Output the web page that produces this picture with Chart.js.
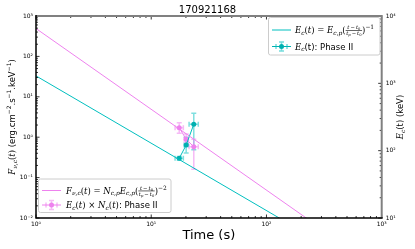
<!DOCTYPE html>
<html>
<head>
<meta charset="utf-8">
<script src="https://cdn.jsdelivr.net/npm/chart.js@4.4.1/dist/chart.umd.min.js"></script>
<style>
html, body { margin: 0; padding: 0; background: #fff; }
</style>
</head>
<body>
<canvas id="grb" width="415" height="249"></canvas>
<script>
// model lines, straight in log-log, end points
modelT = [1, 1000]
fluxModel = [490, 0.00049]     // F_nu,c(t), left axis
epeakModel = [1290, 1.29]      // E_c(t), right axis

// phase II measurements
times = [17.5, 20.1, 23.4]
timesLo = [16.1, 19.3, 21.3]
timesHi = [19.0, 21.0, 25.6]
epeak = [77, 121, 246]
epeakLo = [72, 92, 103]
epeakHi = [82, 158, 358]
flux = [1.72, 0.89, 0.58]
fluxLo = [1.25, 0.72, 0.16]
fluxHi = [2.28, 1.2, 0.89]

// tick labels
xTicks = [1, 10, 100, 1000]
fluxTicks = [0.01, 0.1, 1, 10, 100, 1000]
epeakTicks = [10, 100, 1000, 10000]

pink = '#ee82ee'
cyan = '#00bfbf'

function pow10label(v) {
  var sup = {'-': '\u207b', '0': '\u2070', '1': '\u00b9', '2': '\u00b2', '3': '\u00b3', '4': '\u2074'};
  var e = String(Math.round(Math.log10(v)));
  return '10' + e.split('').map(c => sup[c]).join('');
}

function pts(xs, ys) {
  return xs.map((x, i) => ({x: x, y: ys[i]}));
}

// little rich-text helper for the mathtext bits
function pf(p, s) {
  if (p.it) return 'italic ' + s + 'px "DejaVu Serif"';
  if (p.m) return s + 'px "DejaVu Serif"';
  return s + 'px "DejaVu Sans"';
}
function rich(ctx, parts, x, by, size, draw) {
  var cx = x;
  parts.forEach(p => {
    if (p.frac) {
      var fs = size * 0.62;
      var wn = rich(ctx, p.frac[0], 0, 0, fs, false);
      var wd = rich(ctx, p.frac[1], 0, 0, fs, false);
      var w = Math.max(wn, wd) + 1;
      if (draw) {
        var bar = by - size * 0.3;
        rich(ctx, p.frac[0], cx + (w - wn) / 2, bar - 1.2, fs, true);
        rich(ctx, p.frac[1], cx + (w - wd) / 2, bar + 0.8 + fs * 0.75, fs, true);
        ctx.fillRect(cx, bar - 0.3, w, 0.6);
      }
      cx += w;
      return;
    }
    var s = (p.sub || p.sup) ? size * 0.7 : size;
    ctx.font = pf(p, s);
    var dy = p.sub ? size * 0.22 : p.sup ? -size * 0.42 : 0;
    if (draw) ctx.fillText(p.t, cx, by + dy);
    cx += ctx.measureText(p.t).width;
  });
  return cx - x;
}

fracT = {frac: [
  [{t: 't', it: 1}, {t: '\u2009\u2212\u2009', m: 1}, {t: 't', it: 1}, {t: '0', m: 1, sub: 1}],
  [{t: 't', it: 1}, {t: 'p', it: 1, sub: 1}, {t: '\u2009\u2212\u2009', m: 1}, {t: 't', it: 1}, {t: '0', m: 1, sub: 1}]
]}
legE1 = [{t: 'E', it: 1}, {t: 'c', it: 1, sub: 1}, {t: '(', m: 1}, {t: 't', it: 1}, {t: ')', m: 1},
  {t: ' = ', m: 1}, {t: 'E', it: 1}, {t: 'c,p', it: 1, sub: 1}, {t: '(', m: 1}, fracT, {t: ')', m: 1}, {t: '\u22121', m: 1, sup: 1}]
legE2 = [{t: 'E', it: 1}, {t: 'c', it: 1, sub: 1}, {t: '(t): Phase II'}]
legF1 = [{t: 'F', it: 1}, {t: '\u03bd,c', it: 1, sub: 1}, {t: '(', m: 1}, {t: 't', it: 1}, {t: ')', m: 1},
  {t: ' = ', m: 1}, {t: 'N', it: 1}, {t: 'c,p', it: 1, sub: 1}, {t: 'E', it: 1}, {t: 'c,p', it: 1, sub: 1},
  {t: '(', m: 1}, fracT, {t: ')', m: 1}, {t: '\u22122', m: 1, sup: 1}]
legF2 = [{t: 'E', it: 1}, {t: 'c', it: 1, sub: 1}, {t: '(', m: 1}, {t: 't', it: 1}, {t: ')', m: 1},
  {t: ' \u00d7 ', m: 1}, {t: 'N', it: 1}, {t: 'c', it: 1, sub: 1}, {t: '(', m: 1}, {t: 't', it: 1}, {t: ')', m: 1},
  {t: ': Phase II'}]
titleF = [{t: 'F', it: 1}, {t: '\u03bd,c', it: 1, sub: 1}, {t: '(', m: 1}, {t: 't', it: 1}, {t: ')', m: 1},
  {t: ' (erg.cm'}, {t: '\u22122', sup: 1}, {t: '.s'}, {t: '\u22121', sup: 1}, {t: '.keV'}, {t: '\u22121', sup: 1}, {t: ')'}]
titleE = [{t: 'E', it: 1}, {t: 'c', it: 1, sub: 1}, {t: '(t) (keV)'}]

function errBars(chart, yId, ys, lo, hi, color) {
  var ctx = chart.ctx, sx = chart.scales.x, sy = chart.scales[yId];
  ctx.save();
  ctx.strokeStyle = color;
  ctx.lineWidth = 1.5;
  times.forEach((t, i) => {
    var px = sx.getPixelForValue(t), py = sy.getPixelForValue(ys[i]);
    var x0 = sx.getPixelForValue(timesLo[i]), x1 = sx.getPixelForValue(timesHi[i]);
    var y0 = sy.getPixelForValue(lo[i]), y1 = sy.getPixelForValue(hi[i]);
    var c = 2.5;
    ctx.beginPath();
    ctx.moveTo(x0, py); ctx.lineTo(x1, py);
    ctx.moveTo(px, y0); ctx.lineTo(px, y1);
    ctx.moveTo(x0, py - c); ctx.lineTo(x0, py + c);
    ctx.moveTo(x1, py - c); ctx.lineTo(x1, py + c);
    ctx.moveTo(px - c, y0); ctx.lineTo(px + c, y0);
    ctx.moveTo(px - c, y1); ctx.lineTo(px + c, y1);
    ctx.stroke();
  });
  ctx.restore();
}

function logTicks(ctx, scale, min, max, draw) {
  for (var k = Math.floor(Math.log10(min)); k <= Math.log10(max); k++) {
    for (var m = 1; m < 10; m++) {
      var v = m * Math.pow(10, k);
      if (v < min * 0.999 || v > max * 1.001) continue;
      draw(scale.getPixelForValue(v), m == 1 ? 3.5 : 2);
    }
  }
}

function legendBox(ctx, x0, y0, x1, y1) {
  ctx.save();
  ctx.fillStyle = 'rgba(255,255,255,0.85)';
  ctx.strokeStyle = '#cccccc';
  ctx.lineWidth = 1;
  ctx.beginPath();
  ctx.roundRect(x0, y0, x1 - x0, y1 - y0, 2);
  ctx.fill();
  ctx.stroke();
  ctx.restore();
}

function lineHandle(ctx, x, y, color) {
  ctx.strokeStyle = color;
  ctx.lineWidth = 1;
  ctx.beginPath(); ctx.moveTo(x, y); ctx.lineTo(x + 19, y); ctx.stroke();
}

function errHandle(ctx, x, y, color, barColor) {
  lineHandle(ctx, x, y, color);
  ctx.strokeStyle = barColor;
  ctx.lineWidth = 1.5;
  ctx.beginPath();
  ctx.moveTo(x + 4, y - 2.5); ctx.lineTo(x + 4, y + 2.5);
  ctx.moveTo(x + 15, y - 2.5); ctx.lineTo(x + 15, y + 2.5);
  ctx.moveTo(x + 9.5, y - 4.5); ctx.lineTo(x + 9.5, y + 4.5);
  ctx.moveTo(x + 7, y - 4.5); ctx.lineTo(x + 12, y - 4.5);
  ctx.moveTo(x + 7, y + 4.5); ctx.lineTo(x + 12, y + 4.5);
  ctx.stroke();
  ctx.fillStyle = color;
  ctx.beginPath(); ctx.arc(x + 9.5, y, 2.5, 0, Math.PI * 2); ctx.fill();
}

decor = {
  id: 'decor',
  beforeDatasetsDraw(chart) {
    errBars(chart, 'yE', epeak, epeakLo, epeakHi, 'rgba(0,191,191,0.5)');
    errBars(chart, 'yF', flux, fluxLo, fluxHi, 'rgba(238,130,238,0.55)');
  },
  afterDraw(chart) {
    var ctx = chart.ctx, a = chart.chartArea;
    var sx = chart.scales.x, sf = chart.scales.yF, se = chart.scales.yE;
    ctx.save();
    // tick marks, pointing inwards
    ctx.strokeStyle = '#000';
    ctx.lineWidth = 0.8;
    ctx.beginPath();
    logTicks(ctx, sx, 1, 1000, (p, l) => {
      ctx.moveTo(p, a.bottom); ctx.lineTo(p, a.bottom - l);
      ctx.moveTo(p, a.top); ctx.lineTo(p, a.top + l);
    });
    logTicks(ctx, sf, 0.01, 1000, (p, l) => { ctx.moveTo(a.left, p); ctx.lineTo(a.left + l, p); });
    logTicks(ctx, se, 10, 10000, (p, l) => { ctx.moveTo(a.right, p); ctx.lineTo(a.right - l, p); });
    ctx.stroke();
    // spines
    ctx.strokeStyle = '#808080';
    ctx.lineWidth = 2;
    ctx.beginPath();
    ctx.moveTo(a.left, a.top); ctx.lineTo(a.right, a.top); ctx.lineTo(a.right, a.bottom);
    ctx.stroke();
    ctx.strokeStyle = '#000';
    ctx.lineWidth = 1.5;
    ctx.beginPath();
    ctx.moveTo(a.left, a.top - 1); ctx.lineTo(a.left, a.bottom); ctx.lineTo(a.right + 1, a.bottom);
    ctx.stroke();

    // legends
    ctx.fillStyle = '#000';
    ctx.textBaseline = 'alphabetic';
    legendBox(ctx, 268.5, 17.5, 380, 55);
    lineHandle(ctx, 272, 30, cyan);
    errHandle(ctx, 272, 46.5, '#00b0b0', 'rgba(0,191,191,0.55)');
    ctx.fillStyle = '#000';
    rich(ctx, legE1, 295, 33, 8.5, true);
    rich(ctx, legE2, 295, 49.5, 8.5, true);

    legendBox(ctx, 38.5, 179, 171, 212.5);
    lineHandle(ctx, 42, 190.5, pink);
    errHandle(ctx, 42, 205, pink, 'rgba(238,130,238,0.55)');
    ctx.fillStyle = '#000';
    rich(ctx, legF1, 66, 193.5, 8.5, true);
    rich(ctx, legF2, 66, 208, 8.5, true);

    // y axis titles
    var cy = (a.top + a.bottom) / 2;
    ctx.translate(12, cy);
    ctx.rotate(-Math.PI / 2);
    var w = rich(ctx, titleF, 0, 0, 8.5, false);
    rich(ctx, titleF, -w / 2, 3, 8.5, true);
    ctx.rotate(Math.PI / 2);
    ctx.translate(-12, -cy);
    ctx.translate(400, cy);
    ctx.rotate(-Math.PI / 2);
    w = rich(ctx, titleE, 0, 0, 8.5, false);
    rich(ctx, titleE, -w / 2, 3, 8.5, true);
    ctx.restore();
  }
};

tickFont = {family: 'DejaVu Sans', size: 6}

config = {
  type: 'scatter',
  data: {
    datasets: [
      {data: pts(modelT, fluxModel), yAxisID: 'yF', showLine: true, borderColor: pink, borderWidth: 1, pointRadius: 0},
      {data: pts(modelT, epeakModel), yAxisID: 'yE', showLine: true, borderColor: cyan, borderWidth: 1, pointRadius: 0},
      {data: pts(times, epeak), yAxisID: 'yE', showLine: true, borderColor: cyan, borderWidth: 1,
        pointRadius: 2.5, pointBackgroundColor: '#00b0b0', pointBorderWidth: 0},
      {data: pts(times, flux), yAxisID: 'yF', showLine: true, borderColor: pink, borderWidth: 1,
        pointRadius: 2.5, pointBackgroundColor: pink, pointBorderWidth: 0}
    ]
  },
  options: {
    responsive: false,
    animation: false,
    layout: {padding: 0},
    plugins: {
      legend: {display: false},
      tooltip: {enabled: false},
      title: {display: true, text: '170921168', color: '#000',
        font: {family: 'DejaVu Sans', size: 10, weight: 'normal'}, padding: {top: 4, bottom: 0}}
    },
    scales: {
      x: {
        type: 'logarithmic', position: 'bottom', min: 1, max: 1000,
        grid: {display: false, drawTicks: false}, border: {display: false},
        afterBuildTicks: s => { s.ticks = xTicks.map(v => ({value: v})); },
        ticks: {callback: v => pow10label(v), font: tickFont, color: '#000', padding: 3, maxRotation: 0, autoSkip: false},
        title: {display: true, text: 'Time (s)', color: '#000', font: {family: 'DejaVu Sans', size: 13}, padding: {top: 0, bottom: 6}},
        afterFit: s => { s.height = 31; }
      },
      yF: {
        type: 'logarithmic', position: 'left', min: 0.01, max: 1000,
        grid: {display: false, drawTicks: false}, border: {display: false},
        afterBuildTicks: s => { s.ticks = fluxTicks.map(v => ({value: v})); },
        ticks: {callback: v => pow10label(v), font: tickFont, color: '#000', padding: 3, autoSkip: false},
        afterFit: s => { s.width = 36; }
      },
      yE: {
        type: 'logarithmic', position: 'right', min: 10, max: 10000,
        grid: {display: false, drawTicks: false}, border: {display: false},
        afterBuildTicks: s => { s.ticks = epeakTicks.map(v => ({value: v})); },
        ticks: {callback: v => pow10label(v), font: tickFont, color: '#000', padding: 4, autoSkip: false},
        afterFit: s => { s.width = 33.3; }
      }
    }
  },
  plugins: [decor]
};

var grbChart = new Chart(document.getElementById('grb'), config);
</script>
</body>
</html>
